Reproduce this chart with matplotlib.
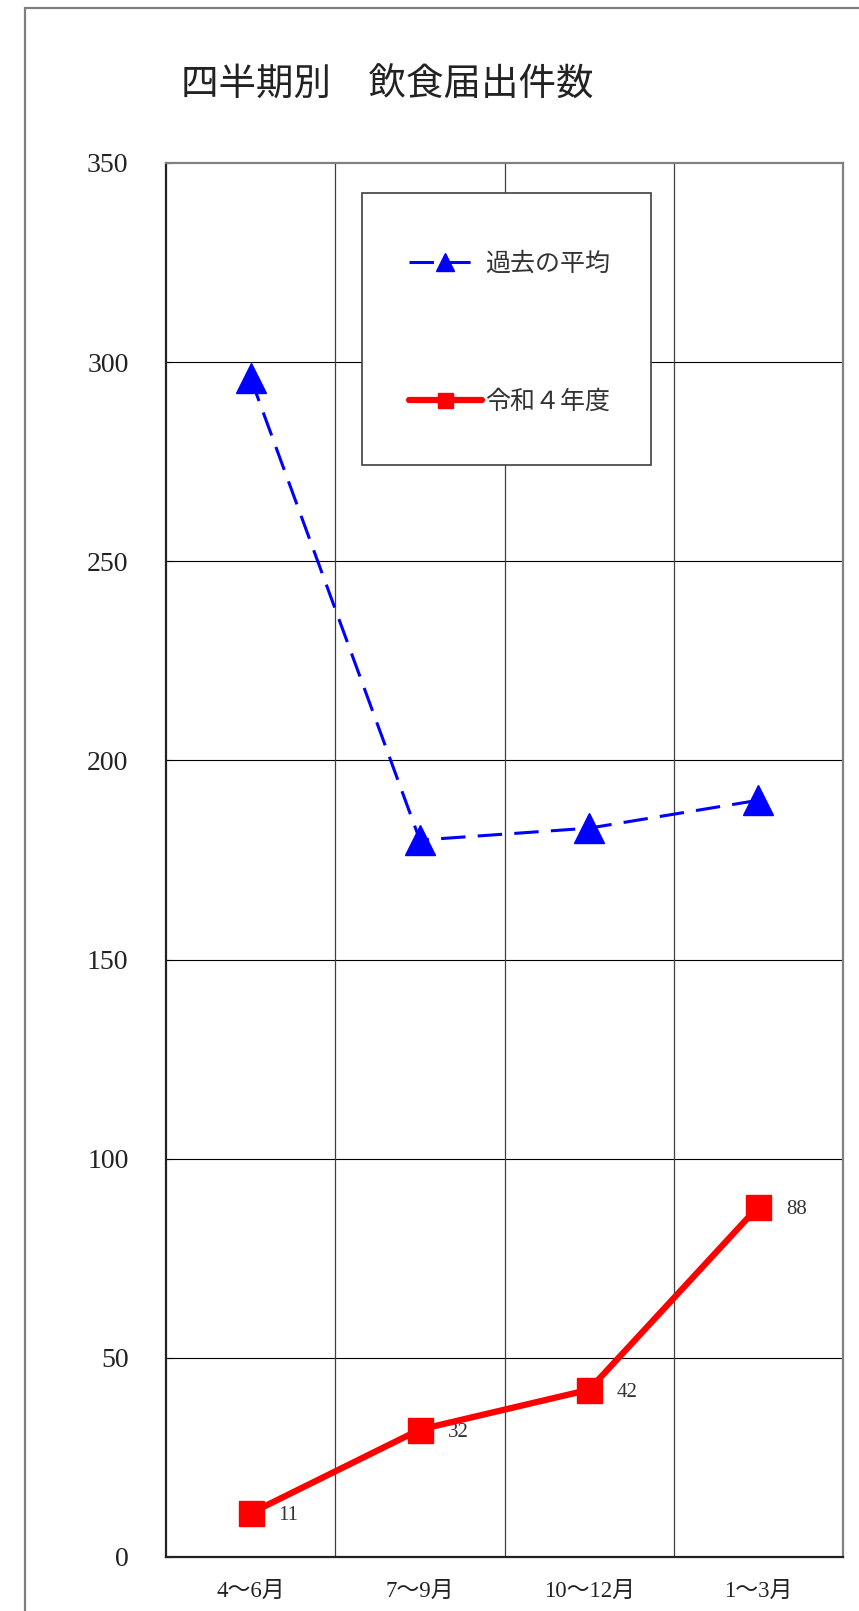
import numpy as np
import matplotlib
matplotlib.use('Agg')
import matplotlib.pyplot as plt
from matplotlib.patches import Rectangle

plt.rcParams['font.family'] = ['Liberation Serif', 'Noto Sans CJK JP', 'DejaVu Sans']

TITLE = '四半期別　飲食届出件数'
quarters = ['4〜6月', '7〜9月', '10〜12月', '1〜3月']
past_avg = [296, 180, 183, 190]
reiwa4 = [11, 32, 42, 88]
y_ticks = [0, 50, 100, 150, 200, 250, 300, 350]

W, H = 859, 1611
fig = plt.figure(figsize=(W / 100, H / 100), dpi=100)
fig.patch.set_facecolor('white')

# outer frame (runs off the right and bottom edges)
fig.add_artist(Rectangle((25 / W, -0.1), 1.2, 1.1 - 8 / H,
                         transform=fig.transFigure, fill=False,
                         edgecolor='#7f7f7f', linewidth=1.6))

ax = fig.add_axes([166 / W, 1 - 1557 / H, (843 - 166) / W, (1557 - 163) / H])

x = np.arange(len(quarters))

ax.plot(x, past_avg, color='#0000ff', linewidth=2.2, dashes=(8, 4),
        marker='^', markersize=21, label='過去の平均', zorder=3)
ax.plot(x, reiwa4, color='#ff0000', linewidth=4.5,
        solid_capstyle='round', solid_joinstyle='round',
        marker='s', markersize=18, label='令和４年度', zorder=4)

for xi, v in zip(x, reiwa4):
    ax.annotate(str(v), (xi, v), xytext=(20, -2), textcoords='offset points',
                ha='left', va='center', fontsize=15, color='#333333')

ax.set_xlim(-0.5, len(quarters) - 0.5)
ax.set_ylim(0, 350)
ax.set_yticks(y_ticks)
ax.set_xticks(x)
ax.set_xticklabels(quarters)

# grid: horizontal at ticks, vertical at category boundaries
for yv in y_ticks[1:-1]:
    ax.axhline(yv, color='black', linewidth=0.8, zorder=1)
for b in np.arange(0.5, len(quarters) - 0.5, 1.0):
    ax.axvline(b, color='#404040', linewidth=0.9, zorder=1)

ax.tick_params(axis='y', direction='in', length=4, pad=27, labelsize=20,
               labelcolor='#222222')
ax.tick_params(axis='x', length=0, pad=17, labelsize=16.5, labelcolor='#222222')

for side in ['left', 'bottom']:
    ax.spines[side].set_color('#222222')
    ax.spines[side].set_linewidth(1.6)
for side in ['top', 'right']:
    ax.spines[side].set_color('#808080')
    ax.spines[side].set_linewidth(1.6)

fig.text(387 / W, 1 - 85 / H, TITLE, ha='center', va='center',
         fontsize=27, color='#222222', family=['Noto Sans CJK JP'])

# legend box drawn separately so its padding can be taller than wide
box = Rectangle((362 / W, 1 - 465 / H), (651 - 362) / W, (465 - 193) / H,
                transform=fig.transFigure, facecolor='white',
                edgecolor='#404040', linewidth=1.2, zorder=5)
fig.add_artist(box)

leg = ax.legend(loc='upper left', bbox_to_anchor=(359 / W, 1 - 202 / H),
                bbox_transform=fig.transFigure, fontsize=18,
                frameon=False, borderpad=2.0, labelspacing=4.6,
                handlelength=2.9, handletextpad=0.15, markerscale=0.6,
                borderaxespad=0)
for t in leg.get_texts():
    t.set_color('#333333')
leg.remove()
fig.add_artist(leg)
leg.set_zorder(6)

fig.savefig('out.png', dpi=100)
